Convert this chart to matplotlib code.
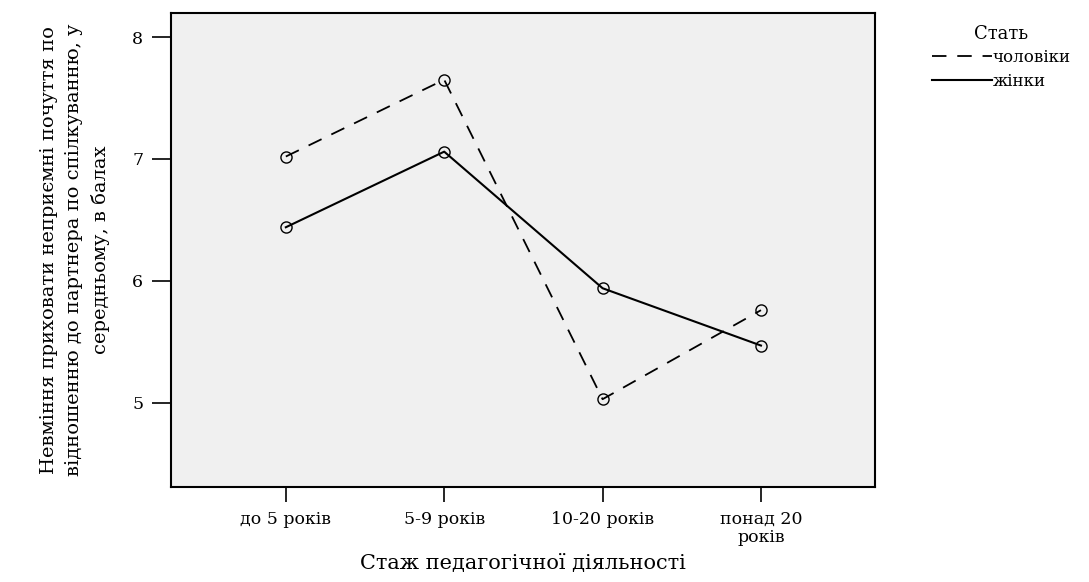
import matplotlib.pyplot as plt
import numpy as np

categories = ["до 5 років", "5-9 років", "10-20 років", "понад 20\nроків"]
men = [7.02, 7.65, 5.03, 5.76]
women = [6.44, 7.06, 5.94, 5.47]

plt.rcParams['font.family'] = ['DejaVu Serif', 'Liberation Serif']

fig = plt.figure(figsize=(10.89, 5.82), dpi=100)
ax = fig.add_axes([171 / 1089, 1 - 487 / 582, (875 - 171) / 1089, (487 - 13) / 582])
ax.set_facecolor("#f0f0f0")

x = np.arange(len(categories))
ax.plot(x, men, color="black", lw=1.3, ls=(0, (8, 6)), marker="o", ms=8,
        mfc="none", mec="black", mew=1.0, label="чоловіки")
ax.plot(x, women, color="black", lw=1.5, ls="-", marker="o", ms=8,
        mfc="none", mec="black", mew=1.0, label="жінки")

ax.set_xlim(-0.725, 3.72)
ax.set_ylim(4.31, 8.197)
ax.set_xticks(x)
ax.set_xticklabels(categories, fontsize=12.5, linespacing=1.1)
ax.set_yticks([5, 6, 7, 8])
ax.set_yticklabels(["5", "6", "7", "8"], fontsize=12.5)
ax.tick_params(axis="x", length=11, width=1.2, pad=6)
ax.tick_params(axis="y", length=14, width=1.2, pad=6)
for s in ax.spines.values():
    s.set_linewidth(1.5)

ax.set_xlabel("Стаж педагогічної діяльності", fontsize=15, labelpad=6)
ax.set_ylabel("Невміння приховати неприємні почуття по\n"
              "відношенню до партнера по спілкуванню, у\n"
              "середньому, в балах", fontsize=14, labelpad=16, linespacing=1.5)

leg = ax.legend(title="Стать", loc="upper left", bbox_to_anchor=(1.065, 1.0),
                frameon=False, fontsize=12, title_fontsize=13, handlelength=3.6,
                handletextpad=0.0, labelspacing=0.4, borderaxespad=0.3)
for h in leg.legend_handles:
    h.set_marker("")

fig.savefig("out.png", dpi=100)
